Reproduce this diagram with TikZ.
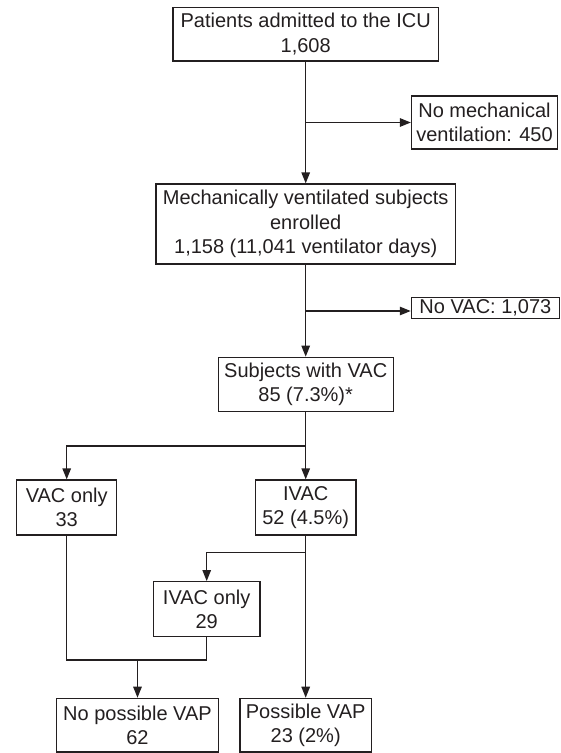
\documentclass[tikz,border=0pt]{standalone}
\usepackage{fontspec}
\setmainfont{Liberation Sans}
\usetikzlibrary{arrows.meta}
\definecolor{ink}{HTML}{231F20}
\tikzset{
  box/.style={draw=ink, line width=1.3pt, inner sep=0pt, align=center, text=ink,
    font=\fontsize{20}{24.5}\selectfont},
  conn/.style={draw=ink, line width=1.3pt},
  arr/.style={conn, -{Triangle[length=11pt,width=8.5pt]}}
}
\begin{document}
\begin{tikzpicture}[x=1pt,y=-1pt]
\useasboundingbox (0,0) rectangle (561,753);
\node[box, minimum width=265.6pt, minimum height=53.7pt] (b1) at (305.7,34.2) {Patients admitted to the ICU\\1,608};
\node[box, minimum width=146pt, minimum height=53pt] (b2) at (484.5,122.5) {No mechanical\\ventilation: 450};
\node[box, minimum width=299.3pt, minimum height=80pt] (b3) at (305.7,224) {Mechanically ventilated subjects\\enrolled\\1,158 (11,041 ventilator days)};
\node[box, minimum width=148pt, minimum height=21pt] (b4) at (485.4,308) {No VAC: 1,073};
\node[box, minimum width=175pt, minimum height=54.4pt] (b5) at (305.7,384.5) {Subjects with VAC\\85 (7.3\%)*};
\node[box, minimum width=100pt, minimum height=55pt] (b6) at (66.7,507.5) {VAC only\\33};
\node[box, minimum width=100.3pt, minimum height=55pt] (b7) at (305.7,507.5) {IVAC\\52 (4.5\%)};
\node[box, minimum width=106.7pt, minimum height=55pt] (b8) at (206.7,609.2) {IVAC only\\29};
\node[box, minimum width=161.6pt, minimum height=53.7pt] (b9) at (137.5,725.2) {No possible VAP\\62};
\node[box, minimum width=131.4pt, minimum height=53.7pt] (b10) at (305.7,725.2) {Possible VAP\\23 (2\%)};

\coordinate (j1) at (305.7,122.5);
\coordinate (j2) at (305.7,311);
\coordinate (j3) at (305.7,446);
\coordinate (j4) at (305.7,552.3);
\coordinate (j5) at (206.7,660);
\coordinate (j6) at (137.5,660);

\draw[arr] (b1) -- (b3);
\draw[arr] (j1) -- (b2);
\draw[arr] (b3) -- (b5);
\draw[arr] (j2) -- (b4.west |- j2);
\draw[arr] (b5) -- (b7);
\draw[arr] (j3) -| (b6);
\draw[arr] (b7) -- (b10);
\draw[arr] (j4) -| (b8);
\draw[conn] (b6) |- (j5);
\draw[conn] (b8) -- (j5);
\draw[arr] (j6) -- (b9);
\end{tikzpicture}
\end{document}
